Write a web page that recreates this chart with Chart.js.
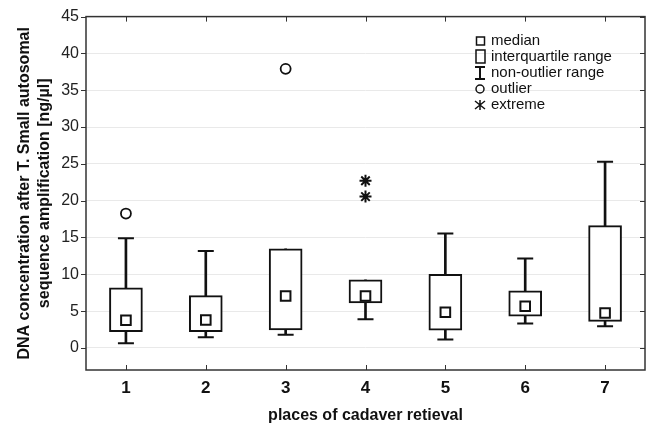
<!DOCTYPE html>
<html>
<head>
<meta charset="utf-8">
<script src="https://cdn.jsdelivr.net/npm/chart.js@4.4.1/dist/chart.umd.min.js"></script>
<style>
  html, body { margin: 0; padding: 0; background: #fff; overflow: hidden; }
  #wrap { width: 649px; height: 427px; }
</style>
</head>
<body>
<div id="wrap"><canvas id="boxChart"></canvas></div>
<script>
// --- data ---
const places = ['1', '2', '3', '4', '5', '6', '7'];
const q1 = [2.2, 2.2, 2.45, 6.1, 2.4, 4.3, 3.6];
const q3 = [8.15, 7.1, 13.45, 9.25, 10.0, 7.75, 16.6];
const medians = [3.75, 3.8, 7.05, 7.05, 4.85, 5.65, 4.75];
const whiskerLow = [0.65, 1.45, 1.8, 3.9, 1.15, 3.3, 2.95];
const whiskerHigh = [14.9, 13.15, 13.45, 9.25, 15.55, 12.15, 25.3];
const outlierPlaces = ['1', '3'];
const outlierValues = [18.25, 37.9];
const extremePlaces = ['4', '4'];
const extremeValues = [22.7, 20.55];
const yTicks = [0, 5, 10, 15, 20, 25, 30, 35, 40, 45];
const legendItems = ['median', 'interquartile range', 'non-outlier range', 'outlier', 'extreme'];

const FONT = "'Liberation Sans', Arial, sans-serif";
const INK = '#111';

// whisker caps: skip the end when it sits on the box edge
const caps = [];
places.forEach((p, i) => {
    if (whiskerLow[i] < q1[i]) caps.push({ x: p, y: whiskerLow[i] });
    if (whiskerHigh[i] > q3[i]) caps.push({ x: p, y: whiskerHigh[i] });
});

// frame, small ticks and the legend box
const framePlugin = {
    id: 'frame',
    afterDraw(chart) {
        const { ctx, chartArea: a, scales } = chart;
        ctx.save();
        ctx.strokeStyle = '#333';
        ctx.lineWidth = 1.5;
        ctx.strokeRect(a.left, a.top, a.right - a.left, a.bottom - a.top);

        ctx.lineWidth = 1;
        ctx.beginPath();
        yTicks.forEach(v => {
            const y = Math.round(scales.y.getPixelForValue(v)) + 0.5;
            ctx.moveTo(a.left - 5, y); ctx.lineTo(a.left, y);
            ctx.moveTo(a.right - 5, y); ctx.lineTo(a.right, y);
        });
        places.forEach((p, i) => {
            const x = Math.round(scales.x.getPixelForValue(i)) + 0.5;
            ctx.moveTo(x, a.bottom); ctx.lineTo(x, a.bottom - 5);
            ctx.moveTo(x, a.top); ctx.lineTo(x, a.top + 5);
        });
        ctx.stroke();

        // legend
        const lx = 480, ly = 41, step = 16;
        ctx.strokeStyle = INK;
        ctx.fillStyle = INK;
        ctx.lineWidth = 1.5;
        ctx.strokeRect(476.5, ly - 4, 8, 8);
        ctx.strokeRect(476, ly + step - 7, 9, 13);
        ctx.lineWidth = 2;
        ctx.beginPath();
        const iy = ly + 2 * step;
        ctx.moveTo(lx, iy - 6); ctx.lineTo(lx, iy + 6);
        ctx.moveTo(lx - 5, iy - 6); ctx.lineTo(lx + 5, iy - 6);
        ctx.moveTo(lx - 5, iy + 6); ctx.lineTo(lx + 5, iy + 6);
        ctx.stroke();
        ctx.lineWidth = 1.5;
        ctx.beginPath();
        ctx.arc(lx, ly + 3 * step, 4, 0, Math.PI * 2);
        ctx.stroke();
        const ey = ly + 4 * step;
        ctx.beginPath();
        ctx.moveTo(lx, ey - 5); ctx.lineTo(lx, ey + 5);
        ctx.moveTo(lx - 5, ey - 4); ctx.lineTo(lx + 5, ey + 4);
        ctx.moveTo(lx - 5, ey + 4); ctx.lineTo(lx + 5, ey - 4);
        ctx.stroke();

        ctx.font = '15px ' + FONT;
        ctx.textBaseline = 'middle';
        ctx.textAlign = 'left';
        legendItems.forEach((t, i) => ctx.fillText(t, 491, ly + i * step));
        ctx.restore();
    }
};

const ctx = document.getElementById('boxChart').getContext('2d');
new Chart(ctx, {
    type: 'bar',
    data: {
        labels: places,
        datasets: [
            {
                label: 'extreme',
                type: 'line',
                showLine: false,
                data: extremePlaces.map((p, i) => ({ x: p, y: extremeValues[i] })),
                pointStyle: 'star',
                pointRadius: 6,
                borderColor: INK,
                borderWidth: 2,
                order: 0
            },
            {
                label: 'outlier',
                type: 'line',
                showLine: false,
                data: outlierPlaces.map((p, i) => ({ x: p, y: outlierValues[i] })),
                pointStyle: 'circle',
                pointRadius: 5,
                backgroundColor: '#fff',
                borderColor: INK,
                borderWidth: 1.8,
                order: 0
            },
            {
                label: 'median',
                type: 'line',
                showLine: false,
                data: medians,
                pointStyle: 'rect',
                pointRadius: 6.8,
                backgroundColor: '#fff',
                borderColor: INK,
                borderWidth: 2,
                order: 1
            },
            {
                label: 'interquartile range',
                data: places.map((p, i) => [q1[i], q3[i]]),
                backgroundColor: '#fff',
                borderColor: INK,
                borderWidth: 2,
                borderSkipped: false,
                barThickness: 33,
                grouped: false,
                order: 2
            },
            {
                label: 'cap',
                type: 'line',
                showLine: false,
                data: caps,
                pointStyle: 'line',
                pointRadius: 8,
                borderColor: INK,
                borderWidth: 2,
                order: 3
            },
            {
                label: 'non-outlier range',
                data: places.map((p, i) => [whiskerLow[i], whiskerHigh[i]]),
                backgroundColor: INK,
                borderWidth: 0,
                barThickness: 2,
                grouped: false,
                order: 4
            }
        ]
    },
    options: {
        responsive: true,
        maintainAspectRatio: false,
        animation: false,
        events: [],
        layout: { autoPadding: false, padding: { top: 15, right: 4, left: 0, bottom: 0 } },
        plugins: {
            legend: { display: false },
            tooltip: { enabled: false }
        },
        scales: {
            x: {
                offset: true,
                grid: { display: false, drawTicks: false },
                border: { display: false },
                afterFit: s => { s.height = 57; },
                ticks: {
                    color: INK,
                    padding: 8,
                    font: { family: FONT, size: 17, weight: 'bold' }
                },
                title: {
                    display: true,
                    text: 'places of cadaver retieval',
                    color: INK,
                    font: { family: FONT, size: 16, weight: 'bold' },
                    padding: { top: 0, bottom: 2 }
                }
            },
            y: {
                min: -3,
                max: 45,
                afterBuildTicks: s => { s.ticks = yTicks.map(v => ({ value: v })); },
                afterFit: s => { s.width = 86; },
                grid: { color: '#e9e9e9', lineWidth: 1, drawTicks: false },
                border: { display: false },
                ticks: {
                    color: '#222',
                    padding: 7,
                    font: { family: FONT, size: 16 }
                },
                title: {
                    display: true,
                    text: ['DNA concentration after T. Small autosomal', 'sequence amplification [ng/µl]'],
                    color: INK,
                    font: { family: FONT, size: 16, weight: 'bold', lineHeight: 1.25 },
                    padding: { top: 15, bottom: 0 }
                }
            }
        }
    },
    plugins: [framePlugin]
});
</script>
</body>
</html>
